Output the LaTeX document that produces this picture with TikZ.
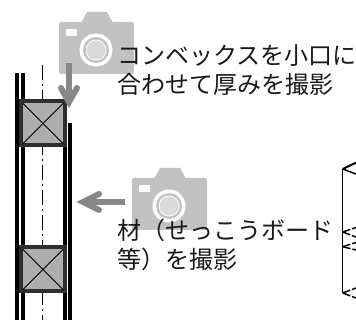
\documentclass[tikz,border=0pt]{standalone}
\usepackage{fontspec}
\setmainfont{Noto Sans CJK JP}
\usetikzlibrary{arrows}
\definecolor{camgray}{gray}{0.76}
\definecolor{arrowgray}{gray}{0.53}
\definecolor{postgray}{gray}{0.68}
\definecolor{postedge}{gray}{0.18}
\tikzstyle{caption} = [anchor=west, inner sep=0pt, font=\fontsize{24pt}{28pt}\selectfont, text=black!90]
\tikzstyle{wall} = [line width=4pt, black]
\tikzstyle{post} = [draw=postedge, fill=postgray, line width=4pt, minimum width=44pt, minimum height=44pt, outer sep=-2pt, inner sep=0pt]
\tikzstyle{pointer} = [line width=6pt, arrowgray, line cap=round]
\tikzstyle{outline} = [line width=1.5pt, black]
\tikzstyle{chevron} = [outline, dash pattern=on 8pt off 2pt]
\newcommand{\camera}[3]{
  \fill[camgray, rounded corners=2pt] (#1,#2) rectangle (#1+75,#2+52);
  \fill[camgray] (#1+22,#2+1) -- (#1+28,#2-10) -- (#1+48,#2-10) -- (#1+54,#2+1) -- cycle;
  \fill[white] (#1+7,#2+7) rectangle (#1+18,#2+14);
  \fill[white] (#1+37,#2+28) circle (16.5);
  \fill[camgray] (#1+37,#2+28) circle (13);
  \fill[white] (#1+37,#2+28) circle (10.5);
  \fill[camgray!60] (#1+37,#2+28) circle (9.5);
  \node[inner sep=0pt] (#3) at (#1+37,#2+28) {};
}
\begin{document}
\begin{tikzpicture}[x=1pt,y=-1pt]
\useasboundingbox (0,0) rectangle (356,320);
% columns
\draw[wall] (16.5,73) -- (16.5,320);
\draw[wall] (22.5,73) -- (22.5,320);
\draw[wall] (64.5,104) -- (64.5,320);
\draw[wall] (70,123) -- (70,320);
\draw[black, line width=1pt, dash pattern=on 15pt off 4pt on 2pt off 4pt] (42.3,65) -- (42.3,320);
% studs
\node[post] (stud1) at (43,123.5) {};
\node[post] (stud2) at (43,269.5) {};
\draw[black, line width=1pt] (stud1.north west) -- (stud1.south east) (stud1.north east) -- (stud1.south west);
\draw[black, line width=1pt] (stud2.north west) -- (stud2.south east) (stud2.north east) -- (stud2.south west);
% cameras
\camera{59}{22}{cam1}
\camera{132}{178}{cam2}
\coordinate (tip1) at (69,102);
\coordinate (tip2) at (83,202);
\coordinate (tail1) at (69,63);
\coordinate (tail2) at (125,202);
\draw[pointer, line cap=butt] (tail1) -- (tip1);
\draw[pointer, line join=miter] (61,88) -- (tip1) -- (77,88);
\draw[pointer, line cap=butt] (tail2) -- (tip2);
\draw[pointer, line join=miter] (99,194) -- (tip2) -- (99,210);
% labels
\node[caption] (label1) at (117,56) {コンベックスを小口に};
\node[caption] (label2) at (117,84) {合わせて厚みを撮影};
\node[caption] (label3) at (117,230) {材（せっこうボード};
\node[caption] (label4) at (117,259) {等）を撮影};
% board
\draw[outline] (342.7,169) -- (342.7,293);
\draw[outline, line width=2pt] (356,162.7) -- (342.7,169);
\draw[outline] (342.7,169) -- (356,174);
\draw[chevron] (342.7,232) -- (356,227.5);
\draw[chevron] (342.7,232) -- (356,237);
\draw[chevron] (342.7,246.7) -- (356,242.5);
\draw[chevron] (342.7,246.7) -- (356,250);
\draw[chevron] (342.7,293) -- (356,288);
\draw[chevron] (342.7,293) -- (356,298);
\end{tikzpicture}
\end{document}
